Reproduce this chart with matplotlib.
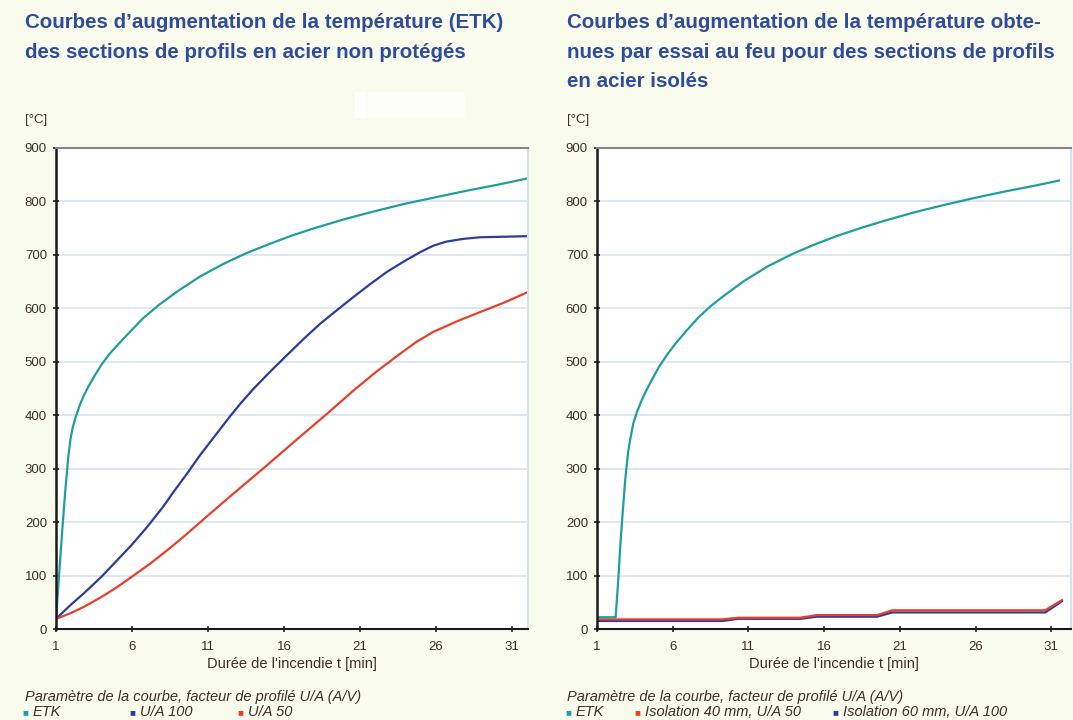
import matplotlib
matplotlib.use("Agg")
import matplotlib.pyplot as plt
from matplotlib.patches import Rectangle

# ---- data ----
# left: unprotected sections
etk_x = [1, 1.2, 1.4, 1.6, 1.8, 1.95, 2.1, 2.3, 2.55, 2.8, 3.1, 3.5, 4, 4.5, 5, 5.5, 6, 6.75,
         7.8, 9, 10.5, 12, 13.5, 15, 16.5, 18, 20, 22, 24, 26, 28, 30, 32]
etk_y = [19, 100, 180, 255, 320, 355, 377, 397, 418, 435, 452, 472, 495, 514, 530, 545, 560, 582,
         607, 632, 660, 683, 703, 720, 736, 750, 767, 782, 796, 808, 820, 831, 843]
ua100_x = [1, 2, 2.8, 4, 5, 6, 6.97, 8, 8.72, 9.6, 10.47, 11.5, 12.45, 13.2, 13.98, 15, 16.18,
           17.3, 18.37, 19.5, 20.56, 21.7, 22.76, 23.9, 24.95, 25.8, 26.7, 27.8, 28.9, 30.5, 32]
ua100_y = [19, 46, 66, 98, 128, 158, 190, 227, 256, 290, 325, 363, 398, 424, 449, 479, 512,
           543, 571, 597, 621, 646, 668, 688, 705, 717, 725, 730, 733, 734, 735]
ua50_x = [1, 2, 2.8, 4, 5, 6, 7.18, 8.3, 9.37, 10.9, 12.45, 14.7, 16.94, 18.8, 20.56, 22.1,
          23.63, 24.7, 25.82, 27.4, 28.9, 30.5, 32]
ua50_y = [19, 30, 41, 60, 78, 98, 122, 147, 172, 210, 248, 302, 357, 402, 446, 482,
          515, 537, 556, 576, 593, 611, 630]

# right: insulated sections (fire test)
etk2_x = [1, 2.23, 2.4, 2.54, 2.7, 2.87, 3.05, 3.2, 3.4, 3.64, 3.95, 4.3, 4.7, 5.08, 5.6, 6.18,
          6.9, 7.7, 8.5, 9.26, 10.7, 12.3, 14, 15.5, 17, 18.5, 20, 22, 24, 26, 28, 30, 31.5]
etk2_y = [22, 22, 90, 156, 220, 281, 330, 356, 385, 406, 428, 449, 470, 490, 512, 534,
          558, 583, 604, 621, 651, 679, 703, 721, 737, 751, 764, 780, 794, 807, 819, 830, 839]
ins40_x = [1, 9.3, 10.3, 14.4, 15.5, 19.5, 20.5, 30.6, 31.7]
ins40_y = [18, 18, 21, 21, 26, 26, 35, 35, 54]
ins60_x = [1, 9.3, 10.3, 14.4, 15.5, 19.5, 20.5, 30.6, 31.7]
ins60_y = [15, 15, 19, 19, 23, 23, 31, 31, 52]

xticks = [1, 6, 11, 16, 21, 26, 31]
yticks = [0, 100, 200, 300, 400, 500, 600, 700, 800, 900]

C_ETK = "#1f9e9e"
C_BLUE = "#2b3d9b"
C_RED = "#e6402a"
C_TITLE = "#2f4b9c"
C_TEXT = "#3a302c"
BG = "#f9fbec"

W, H = 1073, 720
plt.rcParams["font.family"] = ["Liberation Sans", "DejaVu Sans"]
fig = plt.figure(figsize=(W / 100, H / 100), dpi=100, facecolor=BG)


def fx(px):
    return px / W


def fy(py):
    return 1 - py / H


def setup(ax, xmax):
    ax.set_facecolor("white")
    ax.set_xlim(1, xmax)
    ax.set_ylim(0, 900)
    ax.set_xticks(xticks)
    ax.set_yticks(yticks)
    ax.tick_params(axis="both", direction="inout", length=5, width=1.2, color="#222222",
                   labelsize=9.5, labelcolor=C_TEXT, pad=4)
    ax.tick_params(axis="x", pad=6)
    ax.grid(axis="y", color="#d9e5f2", lw=1.3)
    ax.set_axisbelow(True)
    ax.spines["left"].set_color("#1a1a1a")
    ax.spines["left"].set_linewidth(1.8)
    ax.spines["bottom"].set_color("#1a1a1a")
    ax.spines["bottom"].set_linewidth(1.5)
    ax.spines["top"].set_color("#8f7f90")
    ax.spines["top"].set_linewidth(1.5)
    ax.spines["right"].set_color("#d5e2f0")
    ax.spines["right"].set_linewidth(1.5)
    ax.set_xlabel("Durée de l'incendie t [min]", fontsize=10.5, color=C_TEXT, labelpad=3)


# left chart
ax1 = fig.add_axes([fx(56), fy(629), fx(528) - fx(56), fy(148) - fy(629)])
setup(ax1, 32.05)
ax1.plot(etk_x, etk_y, color=C_ETK, lw=1.6)
ax1.plot(ua100_x, ua100_y, color=C_BLUE, lw=1.6)
ax1.plot(ua50_x, ua50_y, color=C_RED, lw=1.6)

# right chart
ax2 = fig.add_axes([fx(597), fy(629), fx(1071) - fx(597), fy(148) - fy(629)])
setup(ax2, 32.3)
ax2.plot(etk2_x, etk2_y, color=C_ETK, lw=1.6)
ax2.plot(ins60_x, ins60_y, color=C_BLUE, lw=1.6)
ax2.plot(ins40_x, ins40_y, color=C_RED, lw=1.6)

# titles
fig.text(fx(25), fy(13), "Courbes d\u2019augmentation de la température (ETK)\ndes sections de profils en acier non protégés",
         fontsize=14.8, fontweight="bold", color=C_TITLE, va="top", ha="left", linespacing=1.7)
fig.text(fx(567), fy(13), "Courbes d\u2019augmentation de la température obte-\nnues par essai au feu pour des sections de profils\nen acier isolés",
         fontsize=14.8, fontweight="bold", color=C_TITLE, va="top", ha="left", linespacing=1.7)

# stray white box in the reference
fig.patches.append(Rectangle((fx(355), fy(118)), fx(465) - fx(355), fy(92) - fy(118),
                             transform=fig.transFigure, facecolor="white", edgecolor="none", alpha=0.6))
fig.patches.append(Rectangle((fx(355), fy(118)), fx(366) - fx(355), fy(92) - fy(118),
                             transform=fig.transFigure, facecolor="white", edgecolor="none"))

for x0 in (25, 567):
    fig.text(fx(x0), fy(120), "[°C]", fontsize=9.5, color=C_TEXT, va="center", ha="left")
    fig.text(fx(x0), fy(697), "Paramètre de la courbe, facteur de profilé U/A (A/V)",
             fontsize=10.5, style="italic", color=C_TEXT, va="center", ha="left")


# legends
def legend_item(px, label, color):
    fig.text(fx(px), fy(712), "\u25a0", fontsize=7, color=color, va="center", ha="left")
    fig.text(fx(px + 11), fy(712), label, fontsize=10.5, style="italic", color=C_TEXT, va="center", ha="left")


legend_item(22, "ETK", C_ETK)
legend_item(129, "U/A 100", C_BLUE)
legend_item(237, "U/A 50", C_RED)
legend_item(565, "ETK", C_ETK)
legend_item(634, "Isolation 40 mm, U/A 50", C_RED)
legend_item(832, "Isolation 60 mm, U/A 100", C_BLUE)

fig.savefig("out.png", dpi=100, facecolor=BG)
